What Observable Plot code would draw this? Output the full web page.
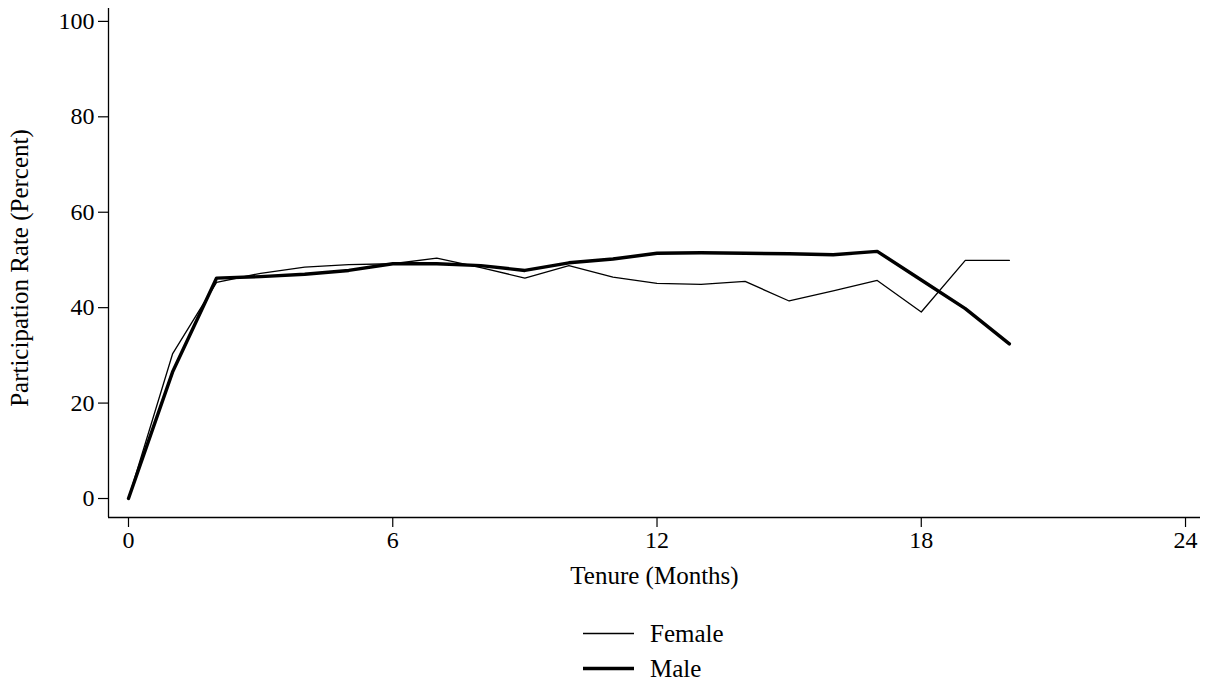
<!DOCTYPE html>
<html>
<head>
<meta charset="utf-8">
<script src="https://cdn.jsdelivr.net/npm/d3@7"></script>
<script src="https://cdn.jsdelivr.net/npm/@observablehq/plot@0.6"></script>
<style>
  html, body { margin: 0; padding: 0; background: #fff; }
  body { width: 1207px; height: 685px; overflow: hidden; font-family: 'Liberation Serif', 'DejaVu Serif', serif; }
  #chart svg, #chart svg text { font-family: 'Liberation Serif', 'DejaVu Serif', serif !important; }
  #legend { position: relative; height: 85px; }
  .item { position: absolute; left: 583px; display: flex; align-items: center; font-size: 25px; line-height: 1; color: #000; }
  .item svg { margin-right: 16px; }
</style>
</head>
<body>
<div id="chart"></div>
<div id="legend"></div>
<script>
const months = [0,1,2,3,4,5,6,7,8,9,10,11,12,13,14,15,16,17,18,19,20];
const female = [0,30.3,45.3,47.2,48.5,49.0,49.2,50.4,48.4,46.2,48.8,46.4,45.1,44.9,45.5,41.4,43.5,45.7,39.1,49.9,49.9];
const male   = [0,26.5,46.2,46.5,47.0,47.8,49.2,49.2,48.8,47.8,49.4,50.2,51.4,51.5,51.4,51.3,51.1,51.8,45.8,39.8,32.4];
const seriesNames = ["Female", "Male"];
const seriesWidths = [1.3, 3.4];
const xTicks = [0, 6, 12, 18, 24];
const yTicks = [0, 20, 40, 60, 80, 100];
const xDomain = [-0.454, 24.34];
const yDomain = [-3.98, 102.7];

const rows = [];
months.forEach((m, i) => {
  rows.push({month: m, rate: female[i], series: seriesNames[0]});
  rows.push({month: m, rate: male[i], series: seriesNames[1]});
});

const font = "'Liberation Serif', 'DejaVu Serif', serif";
const chart = Plot.plot({
  width: 1207,
  height: 600,
  marginLeft: 108,
  marginRight: 7,
  marginTop: 8,
  marginBottom: 83,
  style: {fontFamily: font, fontSize: "24px", color: "#000", background: "#fff"},
  x: {domain: xDomain, label: null},
  y: {domain: yDomain, label: null},
  marks: [
    Plot.ruleX([xDomain[0]], {stroke: "#000", strokeWidth: 1.3}),
    Plot.ruleY([yDomain[0]], {stroke: "#000", strokeWidth: 1.3}),
    Plot.axisX({ticks: xTicks, tickSize: 10, tickPadding: 3, label: null, fontSize: 24, strokeWidth: 1.2}),
    Plot.axisY({ticks: yTicks, tickSize: 10, tickPadding: 4, label: null, fontSize: 24, strokeWidth: 1.2}),
    Plot.text(["Tenure (Months)"], {frameAnchor: "bottom", textAnchor: "middle", dy: 66, fontSize: 25}),
    Plot.text(["Participation Rate (Percent)"], {frameAnchor: "left", textAnchor: "middle", dx: -88.5, dy: 5, rotate: -90, fontSize: 25}),
    Plot.line(rows.filter(d => d.series === "Female"), {x: "month", y: "rate", stroke: "#000", strokeWidth: seriesWidths[0], strokeLinejoin: "round"}),
    Plot.line(rows.filter(d => d.series === "Male"), {x: "month", y: "rate", stroke: "#000", strokeWidth: seriesWidths[1], strokeLinejoin: "round"})
  ]
});
document.getElementById("chart").appendChild(chart);

const legend = document.getElementById("legend");
seriesNames.forEach((name, i) => {
  const div = document.createElement("div");
  div.className = "item";
  div.style.top = (i === 0 ? 33 : 68) + "px";
  div.style.transform = "translateY(-50%)";
  div.innerHTML = `<svg width="51" height="6"><line x1="0" x2="51" y1="3" y2="3" stroke="#000" stroke-width="${seriesWidths[i]}"/></svg><span>${name}</span>`;
  legend.appendChild(div);
});
</script>
</body>
</html>
